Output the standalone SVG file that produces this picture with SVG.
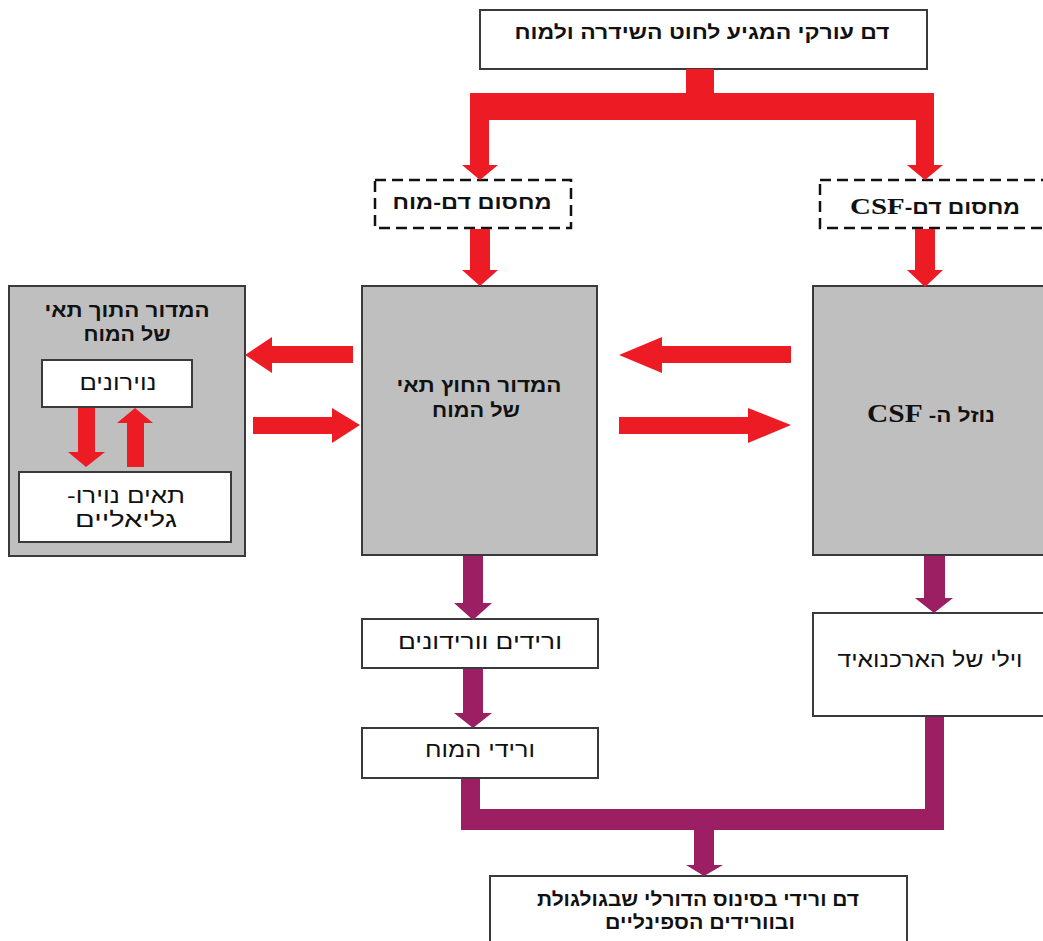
<svg xmlns="http://www.w3.org/2000/svg" width="1043" height="941" viewBox="0 0 1043 941">
<style>
.box{fill:#fff;stroke:#3a3a3a;stroke-width:2}
.gray{fill:#bfbfbf;stroke:#3a3a3a;stroke-width:2}
.dash{fill:#fff;stroke:#111;stroke-width:2.5;stroke-dasharray:11 6}
.red{fill:#ed1c24}
.pur{fill:#9b1f62}
text{font-family:"Liberation Sans","DejaVu Sans",sans-serif;fill:#111;text-anchor:middle;direction:rtl}
.b{font-weight:bold;font-size:19px}
.r{font-size:21px}
.lat{font-family:"Liberation Serif","DejaVu Serif",serif;font-weight:bold}
</style>
<rect width="1043" height="941" fill="#fff"/>
<g id="arterial">
<rect class="box" x="480" y="10" width="447" height="59"/>
<text class="b" x="702" y="39" textLength="375" lengthAdjust="spacingAndGlyphs">דם עורקי המגיע לחוט השידרה ולמוח</text>
</g>
<g id="bbb">
<rect class="dash" x="375" y="180" width="196" height="48"/>
<text class="b" x="472" y="209" textLength="159" lengthAdjust="spacingAndGlyphs">מחסום דם-מוח</text>
</g>
<g id="bcsfb">
<rect class="dash" x="820" y="180" width="240" height="48"/>
<text class="b" x="935" y="214" textLength="170" lengthAdjust="spacingAndGlyphs">מחסום דם-<tspan class="lat" font-size="24">CSF</tspan></text>
</g>
<g id="intracellular">
<rect class="gray" x="9" y="286" width="236" height="270"/>
<text class="b" x="127" y="317" textLength="165" lengthAdjust="spacingAndGlyphs">המדור התוך תאי</text>
<text class="b" x="127" y="341" textLength="87" lengthAdjust="spacingAndGlyphs">של המוח</text>
</g>
<g id="neurons">
<rect class="box" x="42" y="360" width="150" height="47"/>
<text class="r" x="118" y="390" textLength="77" lengthAdjust="spacingAndGlyphs">נוירונים</text>
</g>
<g id="glia">
<rect class="box" x="19" y="472" width="212" height="70"/>
<text class="r" x="126" y="503" textLength="118" lengthAdjust="spacingAndGlyphs">תאים נוירו-</text>
<text class="r" x="126" y="527" textLength="102" lengthAdjust="spacingAndGlyphs">גליאליים</text>
</g>
<g id="extracellular">
<rect class="gray" x="362" y="286" width="235" height="269"/>
<text class="b" x="479" y="392" textLength="165" lengthAdjust="spacingAndGlyphs">המדור החוץ תאי</text>
<text class="b" x="476" y="417" textLength="88" lengthAdjust="spacingAndGlyphs">של המוח</text>
</g>
<g id="csf">
<rect class="gray" x="813" y="286" width="240" height="269"/>
<text class="b" x="931" y="422" font-size="20" textLength="128" lengthAdjust="spacingAndGlyphs">נוזל ה- <tspan class="lat" font-size="25">CSF</tspan></text>
</g>
<g id="venules">
<rect class="box" x="362" y="619" width="236" height="49"/>
<text class="r" x="480" y="649" textLength="164" lengthAdjust="spacingAndGlyphs">ורידים וורידונים</text>
</g>
<g id="cerebral-veins">
<rect class="box" x="362" y="728" width="236" height="50"/>
<text class="r" x="480" y="757" textLength="110" lengthAdjust="spacingAndGlyphs">ורידי המוח</text>
</g>
<g id="arachnoid">
<rect class="box" x="813" y="613" width="240" height="103"/>
<text class="r" x="930" y="667" textLength="185" lengthAdjust="spacingAndGlyphs">וילי של הארכנואיד</text>
</g>
<g id="venous">
<rect class="box" x="490" y="876" width="417" height="70"/>
<text class="b" x="698" y="906" textLength="322" lengthAdjust="spacingAndGlyphs">דם ורידי בסינוס הדורלי שבגולגולת</text>
<text class="b" x="700" y="929" textLength="190" lengthAdjust="spacingAndGlyphs">ובוורידים הספינליים</text>
</g>
<g id="connectors">
<path class="red" d="M686,69 H714 V93 H934 V165 H943 L925,180 L907,165 H916 V120 H489 V165 H498 L480,180 L462,165 H470 V93 H686 Z"/>
<path class="red" d="M470,229 H490 V270 H498 L480,286 L462,270 H470 Z"/>
<path class="red" d="M915,229 H935 V270 H943 L925,287 L907,270 H915 Z"/>
<path class="red" d="M353,346 H272 V337 L245,355 L272,373 V363 H353 Z"/>
<path class="red" d="M253,417 H332 V408 L360,425 L332,443 V434 H253 Z"/>
<path class="red" d="M791,346 H662 V337 L619,355 L662,373 V363 H791 Z"/>
<path class="red" d="M619,417 H748 V408 L791,425 L748,443 V434 H619 Z"/>
<path class="red" d="M78,408 H95 V452 H105 L86,467 L68,452 H78 Z"/>
<path class="red" d="M127,467 H144 V423 H153 L135,408 L117,423 H127 Z"/>
<path class="pur" d="M463,556 H483 V603 H492 L473,620 L454,603 H463 Z"/>
<path class="pur" d="M463,669 H483 V713 H492 L473,728 L454,713 H463 Z"/>
<path class="pur" d="M924,556 H945 V598 H953 L934,613 L915,598 H924 Z"/>
<path class="pur" d="M461,779 H480 V809 H925 V717 H944 V830 H714 V865 H723 L704,876 L686,865 H694 V830 H461 Z"/>
</g>
</svg>
